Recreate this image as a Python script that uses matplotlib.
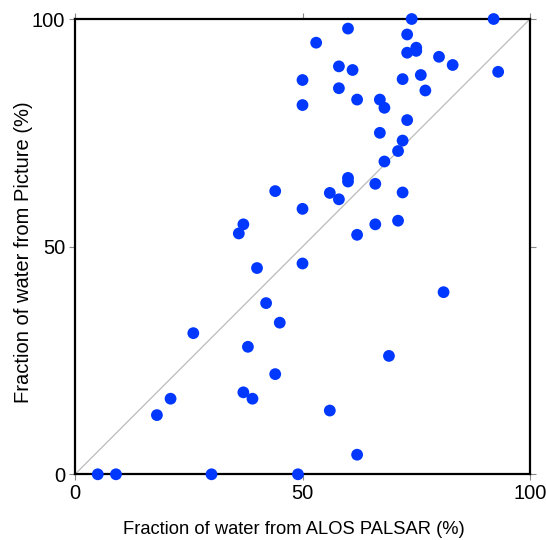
import matplotlib
matplotlib.use("Agg")
import matplotlib.pyplot as plt

plt.rcParams['font.family'] = ['Liberation Sans', 'DejaVu Sans']

alos = [5, 9, 30, 49, 62, 56, 18, 21, 37, 39, 44, 26, 38, 45, 42, 69, 81,
        40, 50, 36, 37, 50, 44, 62, 66, 71, 58, 56, 60, 60, 66, 72, 68, 71, 72, 67, 73,
        68, 67, 62, 50, 50, 58, 58, 61, 53, 60, 72, 76, 77, 73, 75, 75, 73, 74, 92, 80, 83, 93]
picture = [0, 0, 0, 0, 4.3, 14, 13, 16.6, 18, 16.6, 22, 31, 28, 33.3, 37.6, 26, 40,
           45.3, 46.3, 52.9, 54.9, 58.3, 62.2, 52.6, 54.9, 55.7, 60.4, 61.8, 64.3, 65.1, 63.8, 61.9, 68.7, 71, 73.3, 75, 77.8,
           80.5, 82.3, 82.3, 81.1, 86.6, 84.8, 89.6, 88.8, 94.8, 97.9, 86.8, 87.7, 84.3, 92.6, 93.7, 93, 96.6, 100, 100, 91.7, 89.9, 88.4]
ticks = [0, 50, 100]

fig = plt.figure(figsize=(5.46, 5.40), dpi=100)
ax = fig.add_axes([0.1374, 0.1217, 0.9707 - 0.1374, 0.9648 - 0.1217])
ax.plot([0, 100], [0, 100], color='#bbbbbb', lw=0.9, zorder=1)
ax.scatter(alos, picture, s=72, color='#0038ff', edgecolors='none', zorder=3, clip_on=False)
ax.set_xlim(0, 100)
ax.set_ylim(0, 100)
ax.set_xticks(ticks)
ax.set_yticks(ticks)
ax.tick_params(direction='out', length=4, width=0.8, color='#888888', labelsize=14.5,
               top=True, right=True, pad=3)
for sp in ax.spines.values():
    sp.set_linewidth(1.6)
    sp.set_color('black')
ax.set_xlabel('Fraction of water from ALOS PALSAR (%)', fontsize=13.2)
ax.set_ylabel('Fraction of water from Picture (%)', fontsize=14.5)
ax.xaxis.set_label_coords(0.482, -0.1026)
ax.yaxis.set_label_coords(-0.0925, 0.4886)
fig.savefig('out.png', dpi=100)
